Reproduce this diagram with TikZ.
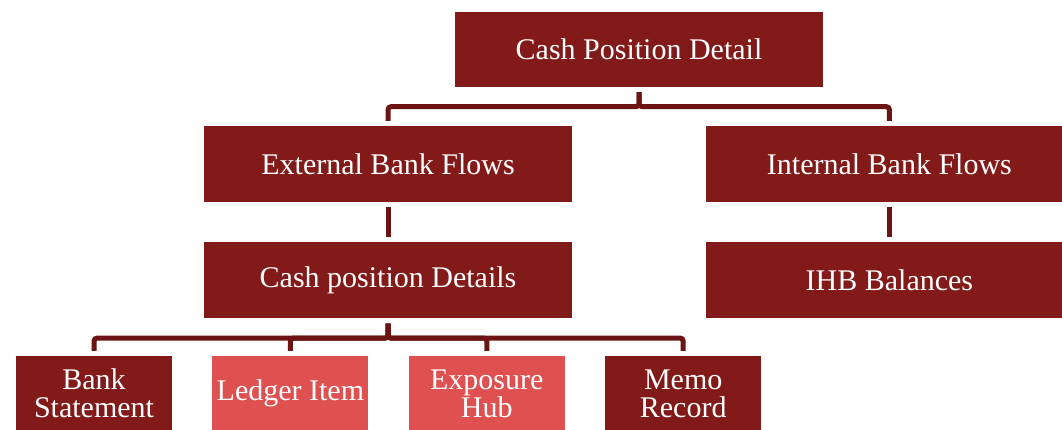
\documentclass[tikz,border=0pt]{standalone}
\usepackage{fontspec}
\setmainfont{Liberation Serif}
\usepackage{tikz}
\usepackage{xcolor}
\usetikzlibrary{positioning}

\definecolor{darkred}{RGB}{130,26,26}
\definecolor{lightred}{RGB}{223,80,80}
\definecolor{linered}{RGB}{108,20,20}

\begin{document}
\begin{tikzpicture}[x=1pt, y=1pt, node distance=40pt,
    box/.style={fill=darkred, text=white, minimum width=368pt, minimum height=76pt,
        inner sep=0pt, font=\fontsize{30}{28}\selectfont, align=center},
    leaf/.style={box, minimum width=156pt, minimum height=75pt},
    pale/.style={fill=lightred},
    link/.style={draw=linered, line width=5pt, rounded corners=3pt,
        shorten <=5pt, shorten >=5pt}]
    \useasboundingbox (0,0) rectangle (1062,-429);

    \node (top) [box, minimum height=75pt] at (639,-49.5) {Cash Position Detail};
    \node (ext) [box] at (388,-164) {External Bank Flows};
    \node (int) [box, minimum width=366pt, right=134pt of ext] {Internal Bank Flows};
    \node (cpd) [box, below=of ext] {Cash position Details};
    \node (ihb) [box, minimum width=366pt, below=of int] {IHB Balances};

    \node (bank) [leaf] at (94,-393.5) {Bank\\Statement};
    \node (ledger) [leaf, pale, right=of bank] {Ledger Item};
    \node (hub) [leaf, pale, right=of ledger] {Exposure\\Hub};
    \node (memo) [leaf, right=of hub] {Memo\\Record};

    \draw[link] (top.south) -- ++(0,-19.5) -| (ext.north);
    \draw[link] (top.south) -- ++(0,-19.5) -| (int.north);
    \draw[link] (ext) -- (cpd);
    \draw[link] (int) -- (ihb);

    \draw[link] (cpd.south) -- ++(0,-19.5) -| (bank.north);
    \draw[link] (cpd.south) -- ++(0,-19.5) -| (ledger.north);
    \draw[link] (cpd.south) -- ++(0,-19.5) -| (hub.north);
    \draw[link] (cpd.south) -- ++(0,-19.5) -| (memo.north);
\end{tikzpicture}
\end{document}
